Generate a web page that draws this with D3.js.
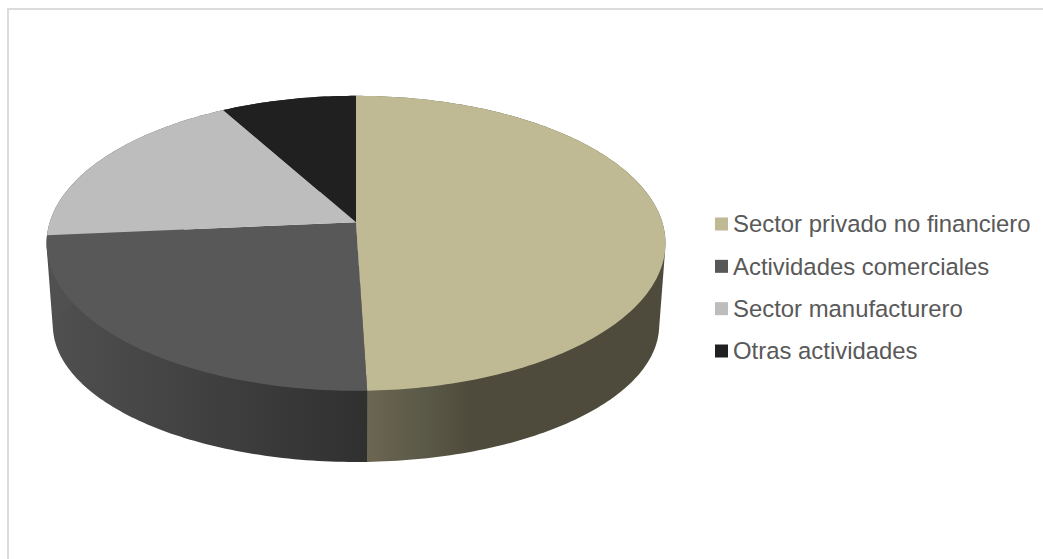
<!DOCTYPE html>
<html lang="es">
<head>
<meta charset="utf-8">
<title>Sectores</title>
<script src="https://cdn.jsdelivr.net/npm/d3@7"></script>
<style>
  html, body { margin: 0; padding: 0; background: #fff; }
  svg { display: block; }
  text { font-family: "Liberation Sans", Arial, sans-serif; }
</style>
</head>
<body>
<svg id="chart" width="1043" height="559"></svg>
<script>
// Cartera por sector (%)
const categories = ["Sector privado no financiero", "Actividades comerciales", "Sector manufacturero", "Otras actividades"];
const shares = [49.5, 24.1, 18.3, 8.1];
const topColors = ["#bfba94", "#585858", "#bdbdbd", "#202020"];
const sideStops = [
  [["0%", "#6c6552"], ["17%", "#5c5b49"], ["35%", "#4f4b3c"], ["100%", "#4f4b3c"]],
  [["0%", "#505050"], ["100%", "#303030"]],
  [["0%", "#505050"], ["100%", "#505050"]],
  [["0%", "#1a1a1a"], ["100%", "#1a1a1a"]]
];
const sideRanges = [[367, 665], [47, 367], [47, 367], [47, 367]];

const svg = d3.select("#chart");
const width = 1043, height = 559;

// Chart frame
svg.append("path")
  .attr("d", `M8,${height} V9 H${width}`)
  .attr("fill", "none")
  .attr("stroke", "#dcdcdc")
  .attr("stroke-width", 2);

// Perspective projection of the disc: u across, v towards the viewer
const cx = 356, k = 0.1424;
const rim = {
  top:    { a: 306.3, b: 144.5, y0: 222.3 },
  bottom: { a: 300.1, b: 134.2, y0: 305.5 }
};
const project = (ring, theta) => {
  const u = Math.sin(theta), v = -Math.cos(theta);
  const s = 1 / (1 - k * v);
  return [cx + ring.a * u * s, ring.y0 + ring.b * v * s];
};

const arcs = d3.pie().sort(null).value(d => d)(shares);
const step = Math.PI / 180;
const samples = (a0, a1) => {
  const n = Math.max(2, Math.ceil((a1 - a0) / step));
  return d3.range(n + 1).map(i => a0 + (a1 - a0) * i / n);
};
const line = d3.line();

// Horizontal gradients for the visible wall of each sector
const defs = svg.append("defs");
sideStops.forEach((stops, i) => {
  const grad = defs.append("linearGradient")
    .attr("id", `wall-${i}`)
    .attr("gradientUnits", "userSpaceOnUse")
    .attr("x1", sideRanges[i][0]).attr("x2", sideRanges[i][1])
    .attr("y1", 0).attr("y2", 0);
  stops.forEach(([offset, color]) => grad.append("stop").attr("offset", offset).attr("stop-color", color));
});

// Wall: convex hull of both rims over the sector; the top face covers the rest
const wallPath = d => {
  const ts = samples(d.startAngle, d.endAngle);
  const points = ts.flatMap(t => [project(rim.top, t), project(rim.bottom, t)]);
  return line(d3.polygonHull(points)) + "Z";
};
svg.append("g").selectAll("path")
  .data(arcs)
  .join("path")
  .attr("d", wallPath)
  .attr("fill", (d, i) => `url(#wall-${i})`);

// Top face of each sector
const topPath = d => line([[cx, rim.top.y0], ...samples(d.startAngle, d.endAngle).map(t => project(rim.top, t))]) + "Z";
svg.append("g").selectAll("path")
  .data(arcs)
  .join("path")
  .attr("d", topPath)
  .attr("fill", (d, i) => topColors[i]);

// Legend
const legendY = d3.scalePoint().domain(categories).range([224, 351]);
const legend = svg.append("g").selectAll("g")
  .data(categories)
  .join("g")
  .attr("transform", d => `translate(715,${legendY(d)})`);
legend.append("rect")
  .attr("x", 0).attr("y", -6.5)
  .attr("width", 13).attr("height", 13)
  .attr("fill", (d, i) => topColors[i]);
legend.append("text")
  .attr("x", 18).attr("y", 0)
  .attr("dy", "0.35em")
  .attr("font-size", 23.9)
  .attr("fill", "#595959")
  .text(d => d);
</script>
</body>
</html>
